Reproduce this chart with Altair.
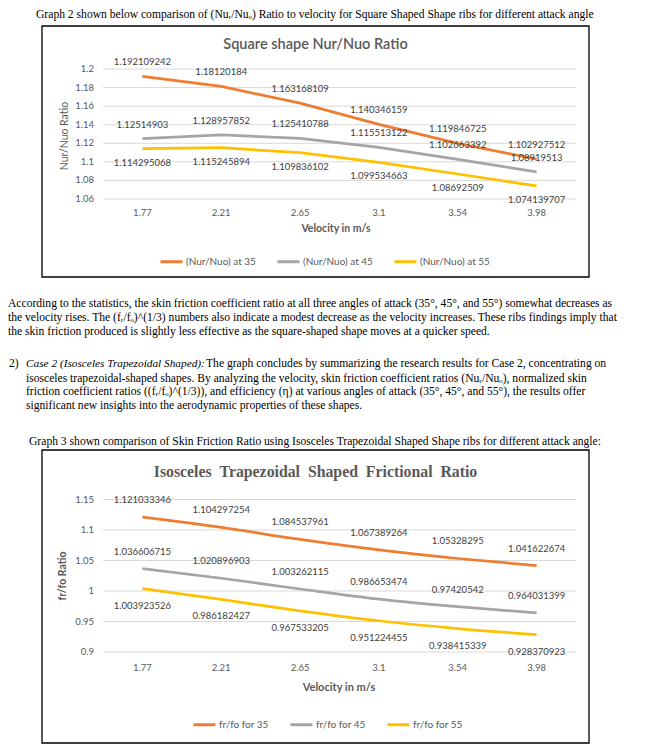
import altair as alt
import pandas as pd

# ---------------- data ----------------
velocity = ["1.77", "2.21", "2.65", "3.1", "3.54", "3.98"]

sq_series = ["(Nur/Nuo) at 35", "(Nur/Nuo) at 45", "(Nur/Nuo) at 55"]
sq_35 = [1.192109242, 1.18120184, 1.163168109, 1.140346159, 1.119846725, 1.102927512]
sq_45 = [1.12514903, 1.128957852, 1.125410788, 1.115513122, 1.102663392, 1.08919513]
sq_55 = [1.114295068, 1.115245894, 1.109836102, 1.099534663, 1.08692509, 1.074139707]
sq_ticks = [1.06, 1.08, 1.1, 1.12, 1.14, 1.16, 1.18, 1.2]

tz_series = ["fr/fo for 35", "fr/fo for 45", "fr/fo for 55"]
tz_35 = [1.121033346, 1.104297254, 1.084537961, 1.067389264, 1.05328295, 1.041622674]
tz_45 = [1.036606715, 1.020896903, 1.003262115, 0.986653474, 0.97420542, 0.964031399]
tz_55 = [1.003923526, 0.986182427, 0.967533205, 0.951224455, 0.938415339, 0.928370923]
tz_ticks = [0.9, 0.95, 1, 1.05, 1.1, 1.15]

series_colors = ["#ED7D31", "#A5A5A5", "#FFC000"]


def long_df(names, lists):
    rows = []
    for name, vals in zip(names, lists):
        for v, r in zip(velocity, vals):
            rows.append({"v": v, "r": r, "s": name, "label": f"{r}"})
    return pd.DataFrame(rows)


def tick_df(ticks):
    return pd.DataFrame({"t": ticks, "tl": [f"{t:g}" for t in ticks]})


sq_df = long_df(sq_series, [sq_35, sq_45, sq_55])
tz_df = long_df(tz_series, [tz_35, tz_45, tz_55])
vel_df = pd.DataFrame({"v": velocity})
one = pd.DataFrame({"k": [0]})

AX_COL = "#595959"
LBL_COL = "#404040"
CF = "Lato"
SERIF = "Liberation Serif"
PS = 11.6  # page text size


def txt(text, x, y, size=PS, font=SERIF, align="left", weight="normal",
        style="normal", color="black", angle=0):
    return alt.Chart(one).mark_text(
        align=align, baseline="middle", font=font, fontSize=size,
        fontWeight=weight, fontStyle=style, color=color, angle=angle
    ).encode(x=alt.value(x), y=alt.value(y), text=alt.value(text))


def box(x1, y1, x2, y2):
    return alt.Chart(one).mark_rect(
        fill="white", stroke="black", strokeWidth=1.3
    ).encode(x=alt.value(x1), x2=alt.value(x2), y=alt.value(y1), y2=alt.value(y2))


def panel(df, names, ticks, ydom, yrange, xlab_y, dy, smooth, legend_xy):
    xs = alt.Scale(type="point", domain=velocity, range=[95, 568], padding=0.5)
    ys = alt.Scale(domain=ydom, range=yrange, nice=False, zero=False)
    X = alt.X("v:O", scale=xs, axis=None)
    Y = alt.Y("r:Q", scale=ys, axis=None)
    tdf = tick_df(ticks)
    grid = alt.Chart(tdf).mark_rule(color="#D9D9D9", strokeWidth=1).encode(
        y=alt.Y("t:Q", scale=ys, axis=None), x=alt.value(95), x2=alt.value(568))
    ylab = alt.Chart(tdf).mark_text(
        align="right", baseline="middle", font=CF, fontSize=9.5, color=AX_COL
    ).encode(y=alt.Y("t:Q", scale=ys, axis=None), x=alt.value(86), text="tl:N")
    xlab = alt.Chart(vel_df).mark_text(
        align="center", baseline="middle", font=CF, fontSize=9.5, color=AX_COL
    ).encode(x=X, y=alt.value(xlab_y), text="v:N")
    line = alt.Chart(df).mark_line(
        strokeWidth=2.75, interpolate="monotone" if smooth else "linear"
    ).encode(
        x=X, y=Y,
        color=alt.Color(
            "s:N",
            scale=alt.Scale(domain=names, range=series_colors),
            legend=alt.Legend(
                orient="none", legendX=legend_xy[0], legendY=legend_xy[1],
                direction="horizontal", title=None, symbolType="stroke",
                symbolSize=484, symbolStrokeWidth=3, labelFont=CF,
                labelFontSize=10, labelColor=AX_COL, labelOffset=2,
                columnPadding=15, padding=0,
            ),
        ),
    )
    above = alt.Chart(df).transform_filter(alt.datum.s != names[2]).mark_text(
        dy=-dy, font=CF, fontSize=9.5, color=LBL_COL
    ).encode(x=X, y=Y, text="label:N")
    below = alt.Chart(df).transform_filter(alt.datum.s == names[2]).mark_text(
        dy=dy, font=CF, fontSize=9.5, color=LBL_COL
    ).encode(x=X, y=Y, text="label:N")
    return alt.layer(grid, ylab, xlab, line, above, below)


chart1 = panel(sq_df, sq_series, sq_ticks, [1.06, 1.2], [191, 61], 205, 14,
               False, (151, 241))
chart2 = panel(tz_df, tz_series, tz_ticks, [0.9, 1.15], [644, 491.5], 660, 17,
               True, (184, 704))

texts = [
    txt("Graph 2 shown below comparison of (Nuᵣ/Nuₒ) Ratio to velocity for Square Shaped Shape ribs for different attack angle", 28, 7),
    txt("Square shape Nur/Nuo Ratio", 307.5, 37, size=14.5, font=CF, align="center", weight=600, color=AX_COL),
    txt("Nur/Nuo Ratio", 57, 128, size=10.5, font=CF, align="center", color=AX_COL, angle=270),
    txt("Velocity in m/s", 328, 221, size=10.5, font=CF, align="center", weight="bold", color=AX_COL),
    txt("According to the statistics, the skin friction coefficient ratio at all three angles of attack (35°, 45°, and 55°) somewhat decreases as", 0, 296),
    txt("the velocity rises. The (fᵣ/fₒ)^(1/3) numbers also indicate a modest decrease as the velocity increases. These ribs findings imply that", 0, 310),
    txt("the skin friction produced is slightly less effective as the square-shaped shape moves at a quicker speed.", 0, 324),
    txt("2)", 1, 356),
    txt("Case 2 (Isosceles Trapezoidal Shaped):", 18, 356, size=11.3, style="italic"),
    txt("The graph concludes by summarizing the research results for Case 2, concentrating on", 198, 356),
    txt("isosceles trapezoidal-shaped shapes. By analyzing the velocity, skin friction coefficient ratios (Nuᵣ/Nuₒ), normalized skin", 18, 370.5),
    txt("friction coefficient ratios ((fᵣ/fₒ)^(1/3)), and efficiency (η) at various angles of attack (35°, 45°, and 55°), the results offer", 18, 384),
    txt("significant new insights into the aerodynamic properties of these shapes.", 18, 398),
    txt("Graph 3 shown comparison of Skin Friction Ratio using Isosceles Trapezoidal Shaped Shape ribs for different attack angle:", 21, 434),
    txt("Isosceles \u00a0Trapezoidal \u00a0Shaped \u00a0Frictional \u00a0Ratio", 307.5, 464, size=15.8, font=SERIF, align="center", weight="bold", color=AX_COL),
    txt("fr/fo Ratio", 55, 568, size=10.5, font=CF, align="center", weight="bold", color=AX_COL, angle=270),
    txt("Velocity in m/s", 331, 680, size=11, font=CF, align="center", weight="bold", color=AX_COL),
]

chart = alt.layer(
    box(34, 18, 581, 269), box(34, 442, 581, 735), chart1, chart2, *texts
).resolve_scale(
    x="independent", y="independent", color="independent"
).properties(
    width=636, height=738, padding=0, autosize=alt.AutoSizeParams(type="none")
).configure_view(stroke=None)

chart.save("out.html", embed_options={"renderer": "svg", "actions": False})
